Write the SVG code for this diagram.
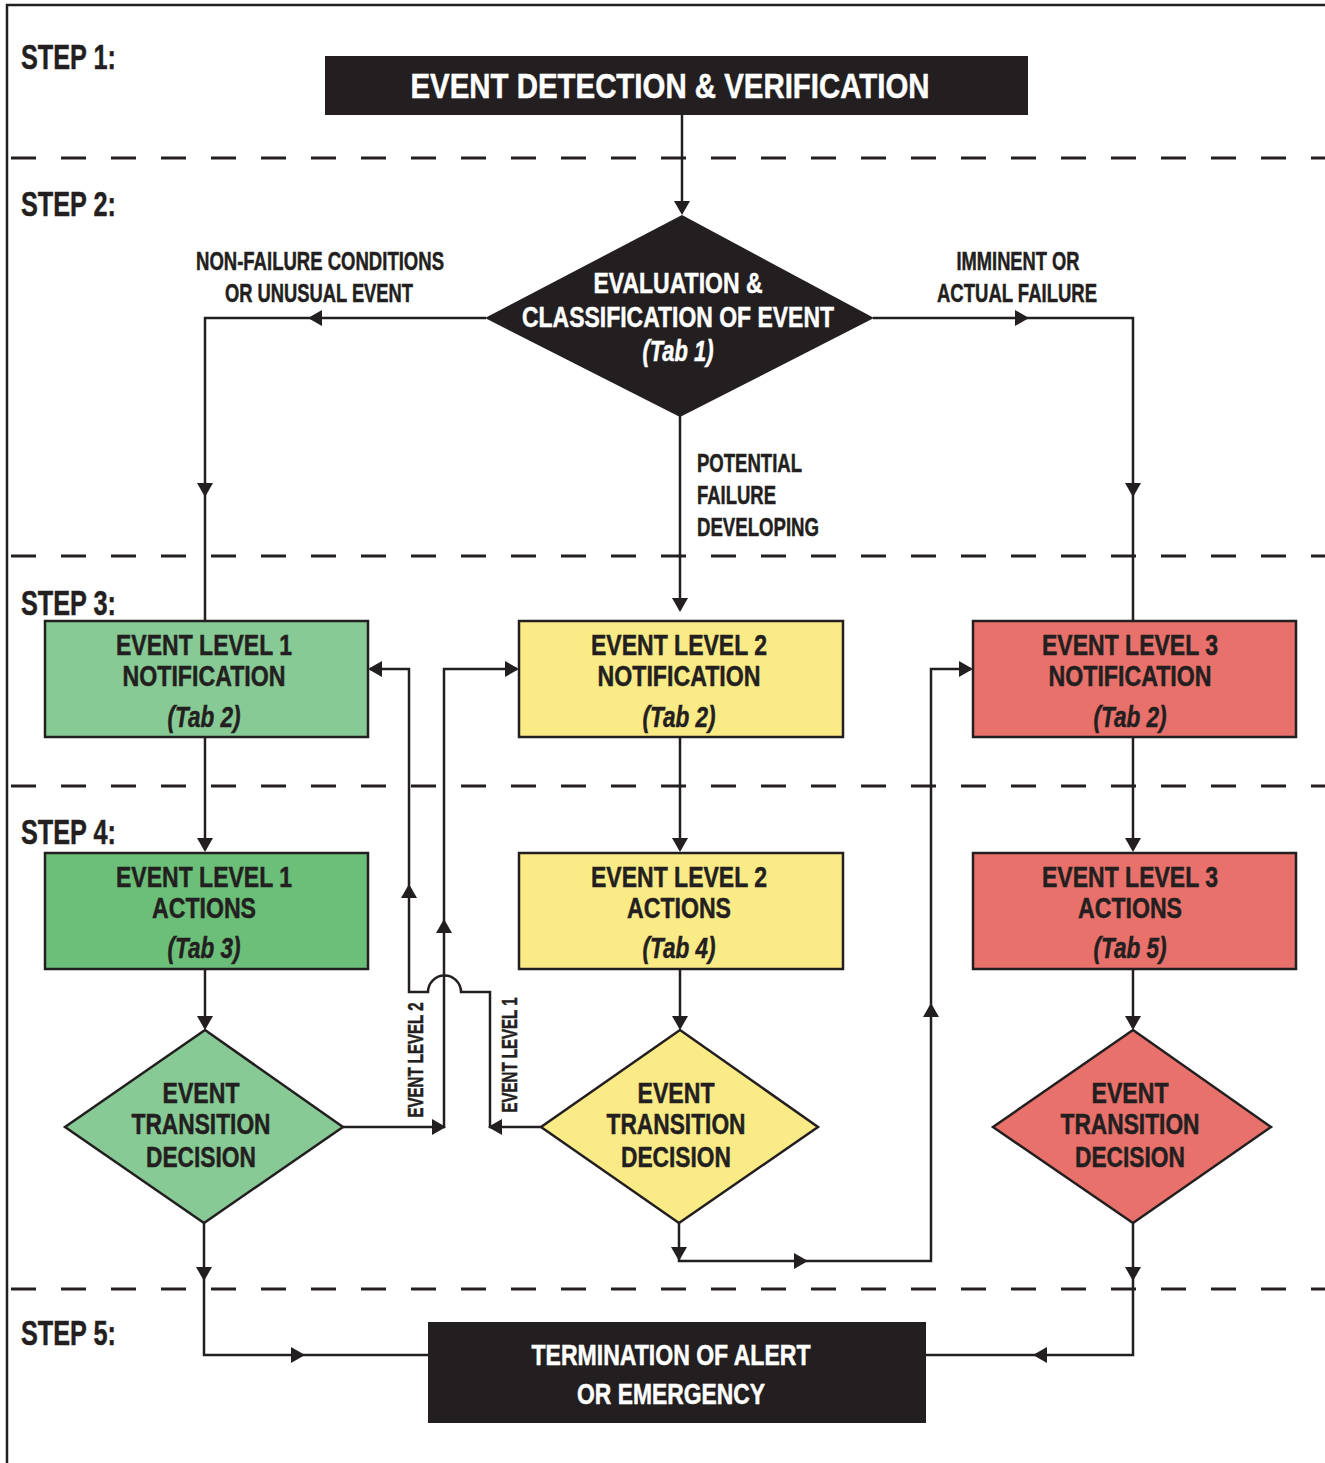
<svg xmlns="http://www.w3.org/2000/svg" xmlns:xlink="http://www.w3.org/1999/xlink" width="1325" height="1463" viewBox="0 0 1325 1463">
<style>
.t{font-family:"Liberation Sans Narrow","Liberation Sans","DejaVu Sans Condensed",sans-serif;font-weight:bold;fill:#231f20;stroke:#231f20;stroke-width:0.5;text-anchor:middle}
.l{text-anchor:start}
.w{fill:#ffffff;stroke:#ffffff}
.i{font-style:italic}
.s{font-size:35px}
.m{font-size:29px}
.lb{font-size:26px}
.r{font-size:22px}
.ln{fill:none;stroke:#231f20;stroke-width:2.5}
.dash{fill:none;stroke:#231f20;stroke-width:3;stroke-dasharray:25 25}
.bx{stroke:#231f20;stroke-width:2.5}
.blk{fill:#231f20}
.g1{fill:#87ca95}
.g2{fill:#6cbf78}
.y{fill:#fbeb87}
.rd{fill:#e8716b}
</style>
<defs>
<path id="ah" d="M0,0 L-14,-8 L-14,8 Z" fill="#231f20"/>
</defs>

<g id="frame">
<path class="ln" d="M7,1463 V5 H1325"/>
<line class="dash" x1="11" y1="158" x2="1325" y2="158"/>
<line class="dash" x1="11" y1="556" x2="1325" y2="556"/>
<line class="dash" x1="11" y1="786" x2="1325" y2="786"/>
<line class="dash" x1="11" y1="1289" x2="1325" y2="1289"/>
</g>

<g id="step-labels">
<text class="t l s" x="21" y="69" textLength="95" lengthAdjust="spacingAndGlyphs">STEP 1:</text>
<text class="t l s" x="21" y="216" textLength="95" lengthAdjust="spacingAndGlyphs">STEP 2:</text>
<text class="t l s" x="21" y="615" textLength="95" lengthAdjust="spacingAndGlyphs">STEP 3:</text>
<text class="t l s" x="21" y="844" textLength="95" lengthAdjust="spacingAndGlyphs">STEP 4:</text>
<text class="t l s" x="21" y="1345" textLength="95" lengthAdjust="spacingAndGlyphs">STEP 5:</text>
</g>

<g id="connectors">
<path class="ln" d="M682,115 V212"/>
<path class="ln" d="M486,318 H205 V621"/>
<path class="ln" d="M873,318 H1133 V621"/>
<path class="ln" d="M680,416 V610"/>
<path class="ln" d="M205,737 V850"/>
<path class="ln" d="M680,737 V850"/>
<path class="ln" d="M1133,737 V850"/>
<path class="ln" d="M205,969 V1028"/>
<path class="ln" d="M680,969 V1028"/>
<path class="ln" d="M1133,969 V1028"/>
<path class="ln" d="M204,1223 V1355 H428"/>
<path class="ln" d="M1133,1223 V1355 H926"/>
<path class="ln" d="M343,1127 H444 V669 H517"/>
<path class="ln" d="M541,1127 H490 V992 H461 A16,16 0 0 0 428,992 H409 V669 H370"/>
<path class="ln" d="M679,1223 V1261 H931 V669 H971"/>
<use xlink:href="#ah" transform="translate(682,215) rotate(90)"/>
<use xlink:href="#ah" transform="translate(308,318) rotate(180)"/>
<use xlink:href="#ah" transform="translate(205,497) rotate(90)"/>
<use xlink:href="#ah" transform="translate(1029,318)"/>
<use xlink:href="#ah" transform="translate(1133,497) rotate(90)"/>
<use xlink:href="#ah" transform="translate(680,612) rotate(90)"/>
<use xlink:href="#ah" transform="translate(205,852) rotate(90)"/>
<use xlink:href="#ah" transform="translate(680,852) rotate(90)"/>
<use xlink:href="#ah" transform="translate(1133,852) rotate(90)"/>
<use xlink:href="#ah" transform="translate(205,1030) rotate(90)"/>
<use xlink:href="#ah" transform="translate(680,1030) rotate(90)"/>
<use xlink:href="#ah" transform="translate(1133,1030) rotate(90)"/>
<use xlink:href="#ah" transform="translate(204,1281) rotate(90)"/>
<use xlink:href="#ah" transform="translate(1133,1281) rotate(90)"/>
<use xlink:href="#ah" transform="translate(305,1355)"/>
<use xlink:href="#ah" transform="translate(1033,1355) rotate(180)"/>
<use xlink:href="#ah" transform="translate(368,669) rotate(180)"/>
<use xlink:href="#ah" transform="translate(409,884) rotate(-90)"/>
<use xlink:href="#ah" transform="translate(446,1127)"/>
<use xlink:href="#ah" transform="translate(444,919) rotate(-90)"/>
<use xlink:href="#ah" transform="translate(519,669)"/>
<use xlink:href="#ah" transform="translate(488,1127) rotate(180)"/>
<use xlink:href="#ah" transform="translate(679,1261) rotate(90)"/>
<use xlink:href="#ah" transform="translate(808,1261)"/>
<use xlink:href="#ah" transform="translate(931,1003) rotate(-90)"/>
<use xlink:href="#ah" transform="translate(973,669)"/>
<text class="t lb" x="320" y="270" textLength="248" lengthAdjust="spacingAndGlyphs">NON-FAILURE CONDITIONS</text>
<text class="t lb" x="319" y="302" textLength="188" lengthAdjust="spacingAndGlyphs">OR UNUSUAL EVENT</text>
<text class="t lb" x="1018" y="270" textLength="123" lengthAdjust="spacingAndGlyphs">IMMINENT OR</text>
<text class="t lb" x="1017" y="302" textLength="160" lengthAdjust="spacingAndGlyphs">ACTUAL FAILURE</text>
<text class="t l lb" x="697" y="472" textLength="105" lengthAdjust="spacingAndGlyphs">POTENTIAL</text>
<text class="t l lb" x="697" y="504" textLength="79" lengthAdjust="spacingAndGlyphs">FAILURE</text>
<text class="t l lb" x="697" y="536" textLength="122" lengthAdjust="spacingAndGlyphs">DEVELOPING</text>
<text class="t r" transform="translate(423,1060) rotate(-90)" textLength="115" lengthAdjust="spacingAndGlyphs">EVENT LEVEL 2</text>
<text class="t r" transform="translate(517,1055) rotate(-90)" textLength="115" lengthAdjust="spacingAndGlyphs">EVENT LEVEL 1</text>
</g>

<g id="event-detection">
<rect class="blk" x="325" y="56" width="703" height="59"/>
<text class="t w s" x="670" y="98" textLength="519" lengthAdjust="spacingAndGlyphs">EVENT DETECTION &amp; VERIFICATION</text>
</g>

<g id="evaluation">
<polygon class="blk" points="682,215 874,318 680,417 485,318"/>
<text class="t w m" x="678" y="293" textLength="169" lengthAdjust="spacingAndGlyphs">EVALUATION &amp;</text>
<text class="t w m" x="678" y="327" textLength="312" lengthAdjust="spacingAndGlyphs">CLASSIFICATION OF EVENT</text>
<text class="t w m i" x="678" y="361" textLength="71" lengthAdjust="spacingAndGlyphs">(Tab 1)</text>
</g>

<g id="level1-notification">
<rect class="bx g1" x="45" y="621" width="323" height="116"/>
<text class="t m" x="204" y="655" textLength="176" lengthAdjust="spacingAndGlyphs">EVENT LEVEL 1</text>
<text class="t m" x="204" y="686" textLength="163" lengthAdjust="spacingAndGlyphs">NOTIFICATION</text>
<text class="t m i" x="204" y="727" textLength="73" lengthAdjust="spacingAndGlyphs">(Tab 2)</text>
</g>

<g id="level2-notification">
<rect class="bx y" x="519" y="621" width="324" height="116"/>
<text class="t m" x="679" y="655" textLength="176" lengthAdjust="spacingAndGlyphs">EVENT LEVEL 2</text>
<text class="t m" x="679" y="686" textLength="163" lengthAdjust="spacingAndGlyphs">NOTIFICATION</text>
<text class="t m i" x="679" y="727" textLength="73" lengthAdjust="spacingAndGlyphs">(Tab 2)</text>
</g>

<g id="level3-notification">
<rect class="bx rd" x="973" y="621" width="323" height="116"/>
<text class="t m" x="1130" y="655" textLength="176" lengthAdjust="spacingAndGlyphs">EVENT LEVEL 3</text>
<text class="t m" x="1130" y="686" textLength="163" lengthAdjust="spacingAndGlyphs">NOTIFICATION</text>
<text class="t m i" x="1130" y="727" textLength="73" lengthAdjust="spacingAndGlyphs">(Tab 2)</text>
</g>

<g id="level1-actions">
<rect class="bx g2" x="45" y="853" width="323" height="116"/>
<text class="t m" x="204" y="887" textLength="176" lengthAdjust="spacingAndGlyphs">EVENT LEVEL 1</text>
<text class="t m" x="204" y="918" textLength="104" lengthAdjust="spacingAndGlyphs">ACTIONS</text>
<text class="t m i" x="204" y="958" textLength="73" lengthAdjust="spacingAndGlyphs">(Tab 3)</text>
</g>

<g id="level2-actions">
<rect class="bx y" x="519" y="853" width="324" height="116"/>
<text class="t m" x="679" y="887" textLength="176" lengthAdjust="spacingAndGlyphs">EVENT LEVEL 2</text>
<text class="t m" x="679" y="918" textLength="104" lengthAdjust="spacingAndGlyphs">ACTIONS</text>
<text class="t m i" x="679" y="958" textLength="73" lengthAdjust="spacingAndGlyphs">(Tab 4)</text>
</g>

<g id="level3-actions">
<rect class="bx rd" x="973" y="853" width="323" height="116"/>
<text class="t m" x="1130" y="887" textLength="176" lengthAdjust="spacingAndGlyphs">EVENT LEVEL 3</text>
<text class="t m" x="1130" y="918" textLength="104" lengthAdjust="spacingAndGlyphs">ACTIONS</text>
<text class="t m i" x="1130" y="958" textLength="73" lengthAdjust="spacingAndGlyphs">(Tab 5)</text>
</g>

<g id="level1-decision">
<polygon class="bx g1" points="205,1030 343,1127 204,1223 65,1127"/>
<text class="t m" x="201" y="1103" textLength="77" lengthAdjust="spacingAndGlyphs">EVENT</text>
<text class="t m" x="201" y="1134" textLength="139" lengthAdjust="spacingAndGlyphs">TRANSITION</text>
<text class="t m" x="201" y="1167" textLength="110" lengthAdjust="spacingAndGlyphs">DECISION</text>
</g>

<g id="level2-decision">
<polygon class="bx y" points="680,1030 818,1127 679,1223 541,1127"/>
<text class="t m" x="676" y="1103" textLength="77" lengthAdjust="spacingAndGlyphs">EVENT</text>
<text class="t m" x="676" y="1134" textLength="139" lengthAdjust="spacingAndGlyphs">TRANSITION</text>
<text class="t m" x="676" y="1167" textLength="110" lengthAdjust="spacingAndGlyphs">DECISION</text>
</g>

<g id="level3-decision">
<polygon class="bx rd" points="1133,1030 1271,1127 1133,1223 993,1127"/>
<text class="t m" x="1130" y="1103" textLength="77" lengthAdjust="spacingAndGlyphs">EVENT</text>
<text class="t m" x="1130" y="1134" textLength="139" lengthAdjust="spacingAndGlyphs">TRANSITION</text>
<text class="t m" x="1130" y="1167" textLength="110" lengthAdjust="spacingAndGlyphs">DECISION</text>
</g>

<g id="termination">
<rect class="blk" x="428" y="1322" width="498" height="101"/>
<text class="t w m" x="671" y="1365" textLength="279" lengthAdjust="spacingAndGlyphs">TERMINATION OF ALERT</text>
<text class="t w m" x="671" y="1404" textLength="188" lengthAdjust="spacingAndGlyphs">OR EMERGENCY</text>
</g>
</svg>
